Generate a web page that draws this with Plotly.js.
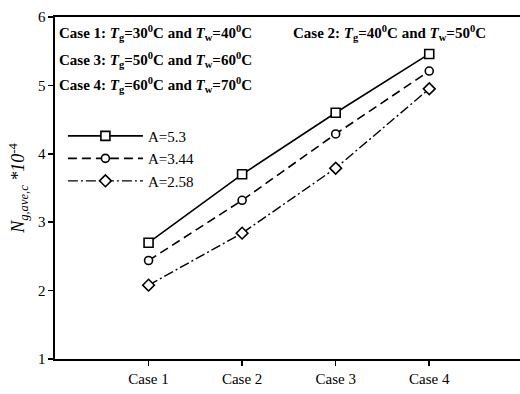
<!DOCTYPE html>
<html>
<head>
<meta charset="utf-8">
<script src="https://cdn.plot.ly/plotly-3.0.1.min.js"></script>
<style>html,body{margin:0;padding:0;background:#fff;}#chart{width:520px;height:394px;}</style>
</head>
<body>
<div id="chart"></div>
<script>
const categories = ['Case 1', 'Case 2', 'Case 3', 'Case 4'];
const seriesNames = ['A=5.3', 'A=3.44', 'A=2.58'];
const valsA53 = [2.70, 3.70, 4.60, 5.46];
const valsA344 = [2.44, 3.32, 4.29, 5.21];
const valsA258 = [2.08, 2.84, 3.79, 4.95];
const yTicks = [1, 2, 3, 4, 5, 6];

const serif = 'Liberation Serif, Times New Roman, serif';
const mk = (sym, size) => ({symbol: sym, size: size, color: '#fff', line: {color: '#000', width: 1.6}});

const traces = [
  {x: categories, y: valsA53, name: seriesNames[0], mode: 'lines+markers', type: 'scatter',
   line: {color: '#000', width: 1.6, dash: 'solid'}, marker: mk('square', 9)},
  {x: categories, y: valsA344, name: seriesNames[1], mode: 'lines+markers', type: 'scatter',
   line: {color: '#000', width: 1.6, dash: '9px,5px'}, marker: mk('circle', 8)},
  {x: categories, y: valsA258, name: seriesNames[2], mode: 'lines+markers', type: 'scatter',
   line: {color: '#000', width: 1.4, dash: '10px,3px,2px,3px'}, marker: mk('diamond', 9)}
];

const ann = (text, x, y) => ({text: text, xref: 'paper', yref: 'paper', x: x, y: y, xanchor: 'left', yanchor: 'middle',
  showarrow: false, font: {family: serif, size: 15, color: '#000', weight: 'bold'}});
const Tg = '<i>T</i><sub>g</sub>', Tw = '<i>T</i><sub>w</sub>';

const layout = {
  width: 520, height: 394,
  margin: {l: 55, r: 0, t: 17, b: 35},
  paper_bgcolor: '#fff', plot_bgcolor: '#fff',
  showlegend: true,
  legend: {x: 0.017, y: 0.7, xanchor: 'left', yanchor: 'top', bgcolor: 'rgba(0,0,0,0)',
    font: {family: serif, size: 15, color: '#000'}, tracegroupgap: 0, itemwidth: 75},
  xaxis: {type: 'category', range: [-1, 3.97], showgrid: false, zeroline: false,
    showline: true, linecolor: '#000', linewidth: 1.6, mirror: true,
    ticks: 'outside', ticklen: 5, tickwidth: 1.6, tickcolor: '#000',
    tickfont: {family: serif, size: 15, color: '#000'}},
  yaxis: {range: [1, 6], tickvals: yTicks, showgrid: false, zeroline: false,
    showline: true, linecolor: '#000', linewidth: 1.6,
    ticks: 'outside', ticklen: 5, tickwidth: 1.6, tickcolor: '#000',
    tickfont: {family: serif, size: 15, color: '#000'},
    title: {text: '<i>N</i><sub><i>g,ave,c</i></sub> <i>*10</i><sup>-4</sup>', standoff: 8,
      font: {family: serif, size: 18, color: '#000'}}},
  annotations: [
    ann('Case 1: ' + Tg + '=30<sup>0</sup>C and ' + Tw + '=40<sup>0</sup>C', 0.005, 0.953),
    ann('Case 3: ' + Tg + '=50<sup>0</sup>C and ' + Tw + '=60<sup>0</sup>C', 0.005, 0.875),
    ann('Case 4: ' + Tg + '=60<sup>0</sup>C and ' + Tw + '=70<sup>0</sup>C', 0.005, 0.80),
    ann('Case 2: ' + Tg + '=40<sup>0</sup>C and ' + Tw + '=50<sup>0</sup>C', 0.508, 0.953)
  ]
};

Plotly.newPlot('chart', traces, layout, {displayModeBar: false, staticPlot: true});
</script>
</body>
</html>
